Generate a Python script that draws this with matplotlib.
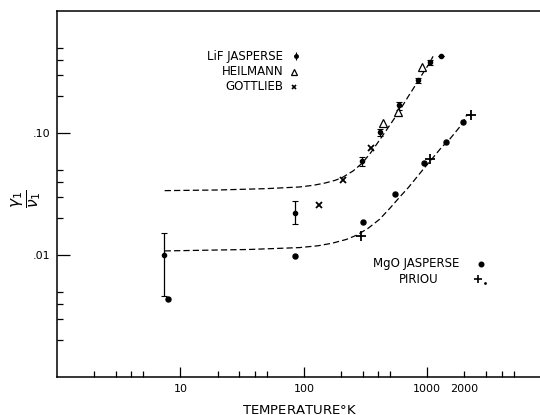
import numpy as np
import matplotlib
matplotlib.use("Agg")
import matplotlib.pyplot as plt
from matplotlib.ticker import FixedLocator, LogLocator, FuncFormatter, NullFormatter

# Data (temperature in K, gamma_1 / nu_1)
lif_jasperse_T = [7.3, 84.5, 296, 417, 595, 839, 1045, 1300]
lif_jasperse_g = [0.0100, 0.0222, 0.0585, 0.101, 0.170, 0.270, 0.380, 0.425]
lif_jasperse_lo = [0.00464, 0.0181, 0.0532, 0.094, 0.155, 0.257, 0.362, 0.425]
lif_jasperse_hi = [0.0151, 0.0275, 0.0635, 0.108, 0.181, 0.283, 0.398, 0.425]

heilmann_T = [436, 583, 907]
heilmann_g = [0.121, 0.150, 0.350]

gottlieb_T = [133, 206, 349]
gottlieb_g = [0.0258, 0.0414, 0.0752]

mgo_jasperse_T = [7.9, 84.5, 303, 550, 938, 1410, 1945]
mgo_jasperse_g = [0.00438, 0.0098, 0.0188, 0.0316, 0.0568, 0.0838, 0.122]

piriou_T = [292, 1045, 2240]
piriou_g = [0.0142, 0.0613, 0.141]

# dashed theory curves
lif_curve_T = [7.45, 20, 50, 92, 120, 150, 180, 205, 250, 298, 350, 423, 500, 595,
               700, 839, 950, 1045, 1112]
lif_curve_g = [0.0337, 0.0341, 0.0350, 0.0361, 0.0373, 0.0390, 0.0410, 0.0432, 0.0488,
               0.0568, 0.0695, 0.0915, 0.117, 0.152, 0.199, 0.265, 0.325, 0.375, 0.425]

mgo_curve_T = [7.45, 36, 92, 130, 170, 220, 266, 330, 410, 500, 600, 700, 800, 950,
               1100, 1300, 1518, 1750, 1945, 2080, 2240]
mgo_curve_g = [0.0108, 0.0111, 0.0115, 0.0119, 0.0125, 0.0134, 0.0145, 0.0165, 0.0196,
               0.0243, 0.0300, 0.0356, 0.0420, 0.0520, 0.0620, 0.0760, 0.0890, 0.106,
               0.1215, 0.140, 0.141]

plt.rcParams['font.family'] = ['DejaVu Sans']

fig = plt.figure(figsize=(5.4, 4.15), dpi=100)
ax = fig.add_axes([57 / 540, 1 - 377 / 415, 1 - 57 / 540, 366 / 415])

ax.set_xscale("log")
ax.set_yscale("log")
ax.set_xlim(1, 8180)
ax.set_ylim(0.001, 1.0)

dash = dict(color="black", lw=0.9, dashes=(5, 2.5))
ax.plot(lif_curve_T, lif_curve_g, **dash)
ax.plot(mgo_curve_T, mgo_curve_g, **dash)

err = [np.array(lif_jasperse_g) - np.array(lif_jasperse_lo),
       np.array(lif_jasperse_hi) - np.array(lif_jasperse_g)]
ax.errorbar(lif_jasperse_T, lif_jasperse_g, yerr=err, fmt="o", color="black",
            ms=3, elinewidth=0.9, capsize=2.5, capthick=0.8)
ax.plot(heilmann_T, heilmann_g, "^", mfc="white", mec="black", ms=5.5, mew=0.9)
ax.plot(gottlieb_T, gottlieb_g, "x", color="black", ms=4.5, mew=1.3)
ax.plot(mgo_jasperse_T, mgo_jasperse_g, "o", color="black", ms=3.6)
ax.plot(piriou_T, piriou_g, "+", color="black", ms=6.5, mew=1.3)

# legend-like labels
fs = 8.5
ax.text(0.468, 0.877, "LiF JASPERSE", transform=ax.transAxes, ha="right", va="center", fontsize=fs)
ax.text(0.468, 0.834, "HEILMANN", transform=ax.transAxes, ha="right", va="center", fontsize=fs)
ax.text(0.468, 0.793, "GOTTLIEB", transform=ax.transAxes, ha="right", va="center", fontsize=fs)
ax.errorbar([0.495], [0.877], yerr=[[0.012], [0.012]], fmt="o", color="black", ms=2.5,
            elinewidth=0.8, capsize=0, transform=ax.transAxes)
ax.plot([0.491], [0.834], "^", mfc="white", mec="black", ms=5, mew=0.9, transform=ax.transAxes)
ax.plot([0.491], [0.793], "x", color="black", ms=3.5, mew=1.2, transform=ax.transAxes)

ax.text(0.834, 0.309, "MgO JASPERSE", transform=ax.transAxes, ha="right", va="center", fontsize=fs)
ax.text(0.789, 0.267, "PIRIOU", transform=ax.transAxes, ha="right", va="center", fontsize=fs)
ax.plot([0.877], [0.309], "o", color="black", ms=3.3, transform=ax.transAxes)
ax.plot([0.872], [0.267], "+", color="black", ms=6, mew=1.2, transform=ax.transAxes)
ax.plot([0.886], [0.258], ".", color="black", ms=2, transform=ax.transAxes)

# axes styling
for s in ["top", "left", "bottom"]:
    ax.spines[s].set_linewidth(1.1)
ax.spines["right"].set_visible(False)

ax.xaxis.set_major_locator(FixedLocator([10, 100, 1000]))
ax.xaxis.set_major_formatter(FuncFormatter(lambda v, p: "%d" % round(v)))
ax.xaxis.set_minor_locator(LogLocator(base=10, subs=[2, 3, 4, 5], numticks=20))
ax.xaxis.set_minor_formatter(FuncFormatter(lambda v, p: "2000" if abs(v - 2000) < 1 else ""))

ax.yaxis.set_major_locator(FixedLocator([0.01, 0.1]))
ax.yaxis.set_major_formatter(FuncFormatter(lambda v, p: ".01" if v < 0.05 else ".10"))
ax.yaxis.set_minor_locator(LogLocator(base=10, subs=[2, 3, 4, 5], numticks=20))
ax.yaxis.set_minor_formatter(NullFormatter())

ax.tick_params(axis="both", which="both", direction="in", top=False, right=False, labelsize=8)
ax.tick_params(axis="x", which="major", length=7, width=0.9, pad=5)
ax.tick_params(axis="x", which="minor", length=4.5, width=0.9, pad=5)
ax.tick_params(axis="y", which="major", length=9, width=0.9, pad=5)
ax.tick_params(axis="y", which="minor", length=4, width=0.9)

fig.text(300 / 540, 1 - 410 / 415, "TEMPERATURE$\\degree$K", ha="center", va="center", fontsize=9.5)
fig.text(27 / 540, 1 - 199 / 415, r"$\frac{\gamma_1}{\nu_1}$", ha="center", va="center",
         rotation=90, fontsize=16)

fig.savefig("out.png", dpi=100)
